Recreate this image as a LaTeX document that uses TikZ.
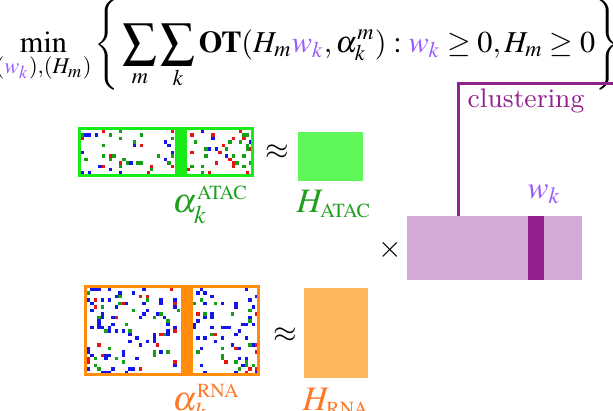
\documentclass[tikz,border=0pt]{standalone}
\usepackage{amsmath}
\usepackage{graphicx}
\usepackage{mathptmx}
\renewcommand{\rmdefault}{lmr}
\usetikzlibrary{positioning}

\definecolor{atacgreen}{RGB}{25,235,25}
\definecolor{atacfill}{RGB}{95,247,90}
\definecolor{ataclabel}{RGB}{30,160,30}
\definecolor{rnaorange}{RGB}{255,140,10}
\definecolor{rnafill}{RGB}{253,183,92}
\definecolor{rnalabel}{RGB}{255,120,40}
\definecolor{clusterpurple}{RGB}{146,32,142}
\definecolor{wfill}{RGB}{214,170,214}
\definecolor{wcolor}{RGB}{155,90,255}
\definecolor{dotred}{RGB}{230,20,20}
\definecolor{dotgreen}{RGB}{20,160,20}
\definecolor{dotblue}{RGB}{20,20,235}

\tikzset{
  mathfont/.style={font=\fontsize{10.6}{13}\selectfont, inner sep=0pt},
  lbl/.style={mathfont, anchor=base west},
  omicslbl/.style={font=\fontsize{12}{14}\selectfont, inner sep=0pt, anchor=base west},
  panel/.style={line width=1.05pt},
  hblock/.style={inner sep=0pt, outer sep=0pt},
  clusterline/.style={draw=clusterpurple, line width=1.05pt}
}

\newcommand{\bigsum}{\mathop{\vcenter{\hbox{\scalebox{1.12}{$\displaystyle\sum$}}}}\limits}

% scattered count dots: x0, y0, last col, last row, red / green / blue cut (in %)
\newcommand{\omicsdots}[7]{%
  \foreach \i in {0,...,#3}{%
    \foreach \j in {0,...,#4}{%
      \pgfmathrandominteger{\dice}{1}{100}%
      \ifnum\dice>#7\relax\else
        \ifnum\dice>#6\relax\def\dotcol{dotblue}\else
          \ifnum\dice>#5\relax\def\dotcol{dotgreen}\else\def\dotcol{dotred}\fi
        \fi
        \fill[\dotcol] (#1+\i*3.45,#2+\j*3.45) rectangle ++(3.45,3.45);
      \fi
    }%
  }%
}

\begin{document}
\begin{tikzpicture}[x=0.35pt,y=-0.35pt]
  \useasboundingbox (0,0) rectangle (613,410);
  \clip (0,0) rectangle (613,410);

  % objective
  \node[lbl] (objective) at (-5,52) {$\displaystyle\min_{({\color{wcolor}w_k}),(H_m)}\left\{\,\bigsum_m\bigsum_k \mathbf{OT}(H_m{\color{wcolor}w_k},\alpha_k^m) : {\color{wcolor}w_k}\geq 0,H_m\geq 0\right\}$};

  % ATAC block
  \pgfmathsetseed{17}
  \omicsdots{81}{130}{26}{12}{7}{13}{16}
  \omicsdots{187}{130}{18}{12}{7}{13}{16}
  \draw[panel, atacgreen] (79.5,128.5) rectangle (252.5,175.5);
  \fill[atacgreen] (175,127) rectangle (187,177);
  \fill[atacfill] (298,132) rectangle (363,181);
  \node[mathfont] (approxatac) at (277,152) {$\approx$};
  \node[omicslbl, text=ataclabel] (alphaatac) at (172,212) {$\alpha_k^{\scriptscriptstyle\mathrm{ATAC}}$};
  \node[omicslbl, text=ataclabel] (hatac) at (296,212) {$H_{\scriptscriptstyle\mathrm{ATAC}}$};

  % RNA block
  \pgfmathsetseed{42}
  \omicsdots{87}{288}{26}{24}{3}{6}{16}
  \omicsdots{193}{288}{18}{24}{3}{6}{16}
  \draw[panel, rnaorange] (85.5,286.5) rectangle (258.5,374.5);
  \fill[rnaorange] (181,285) rectangle (193,376);
  \fill[rnafill] (304,288) rectangle (368,378);
  \node[mathfont] (approxrna) at (285,335) {$\approx$};
  \node[omicslbl, text=rnalabel] (alpharna) at (172,410) {$\alpha_k^{\scriptscriptstyle\mathrm{RNA}}$};
  \node[omicslbl, text=rnalabel] (hrna) at (302,410) {$H_{\scriptscriptstyle\mathrm{RNA}}$};

  % clustering matrix
  \node[mathfont] (times) at (390,250) {$\times$};
  \node[hblock, fill=wfill, minimum width=61.25pt, minimum height=22.4pt] (W) at (494.5,248) {};
  \fill[clusterpurple] (528,216) rectangle (544,280);
  \node[omicslbl, text=wcolor, font=\fontsize{11}{13}\selectfont] (wk) at (527,198) {$w_k$};
  \coordinate (clustend) at (630,83);
  \draw[clusterline] ([xshift=17.85pt]W.north west) |- (clustend);
  \node[anchor=base west, inner sep=0pt, font=\fontsize{9.4}{11}\selectfont, text=clusterpurple] (clustering) at (467,107) {clustering};
\end{tikzpicture}
\end{document}
